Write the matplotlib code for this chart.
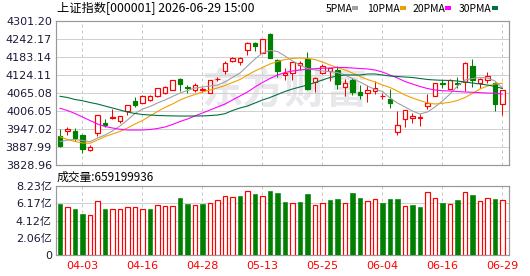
import matplotlib
matplotlib.use('Agg')
import matplotlib.pyplot as plt
import numpy as np

# ---------------- data ----------------
dates = ['03-31', '04-01', '04-02', '04-03', '04-07', '04-08', '04-09', '04-10', '04-13', '04-14',
         '04-15', '04-16', '04-17', '04-20', '04-21', '04-22', '04-23', '04-24', '04-27', '04-28',
         '04-29', '04-30', '05-06', '05-07', '05-08', '05-11', '05-12', '05-13', '05-14', '05-15',
         '05-18', '05-19', '05-20', '05-21', '05-22', '05-25', '05-26', '05-27', '05-28', '05-29',
         '06-01', '06-02', '06-03', '06-04', '06-05', '06-08', '06-09', '06-10', '06-11', '06-12',
         '06-15', '06-16', '06-17', '06-18', '06-22', '06-23', '06-24', '06-25', '06-26', '06-29']

opens = [3924.0, 3939.5, 3940.5, 3927.3, 3878.0, 3933.0, 3965.7, 3984.0, 3972.3, 4007.0,
         4039.9, 4031.3, 4042.0, 4054.3, 4065.0, 4075.9, 4112.0, 4083.8, 4074.9, 4076.0,
         4064.1, 4110.0, 4137.0, 4169.0, 4165.8, 4207.1, 4229.1, 4196.0, 4258.6, 4173.3,
         4124.1, 4129.7, 4155.9, 4176.6, 4101.2, 4129.7, 4138.2, 4140.5, 4084.0, 4107.7,
         4067.4, 4064.1, 4071.6, 4054.0, 4045.4, 3938.2, 3978.8, 3984.1, 3983.0, 4022.4,
         4055.2, 4097.0, 4077.2, 4097.5, 4101.2, 4153.6, 4096.9, 4107.7, 4096.9, 4028.0]
highs = [3946.0, 3952.6, 3951.3, 3930.0, 3895.0, 3993.0, 3979.8, 4011.6, 3990.0, 4026.0,
         4051.0, 4057.0, 4058.5, 4082.0, 4088.0, 4107.0, 4114.3, 4090.3, 4096.9, 4086.0,
         4108.0, 4117.0, 4169.0, 4182.5, 4183.0, 4232.4, 4232.4, 4243.5, 4262.8, 4176.0,
         4146.1, 4168.0, 4171.0, 4198.6, 4118.5, 4159.2, 4147.0, 4153.6, 4110.0, 4115.3,
         4091.3, 4091.3, 4104.4, 4064.0, 4077.2, 4006.0, 4010.0, 3998.5, 3995.0, 4061.8,
         4097.0, 4107.7, 4110.0, 4116.6, 4166.7, 4176.6, 4113.3, 4133.0, 4102.3, 4075.0]
lows = [3889.0, 3927.3, 3908.7, 3869.3, 3875.0, 3924.0, 3954.6, 3981.0, 3967.7, 3993.0,
        4020.0, 4031.0, 4038.0, 4053.0, 4061.8, 4075.0, 4072.6, 4064.1, 4069.4, 4069.4,
        4063.5, 4103.0, 4127.4, 4166.0, 4156.0, 4190.7, 4201.9, 4196.0, 4180.0, 4116.6,
        4107.7, 4107.7, 4140.5, 4076.0, 4069.4, 4127.4, 4105.4, 4078.2, 4055.2, 4058.5,
        4045.4, 4034.6, 4060.8, 4044.4, 4016.9, 3927.3, 3954.6, 3965.7, 3956.0, 4011.6,
        4055.0, 4080.5, 4077.0, 4080.5, 4072.6, 4085.8, 4080.5, 4096.9, 4007.0, 3993.0]
closes = [3891.0, 3946.0, 3918.5, 3880.4, 3889.0, 3992.0, 3961.2, 3986.0, 3988.7, 4024.7,
          4026.7, 4056.0, 4054.0, 4081.5, 4083.8, 4106.7, 4095.6, 4081.5, 4091.3, 4078.0,
          4107.7, 4111.5, 4163.5, 4181.0, 4180.0, 4229.1, 4218.2, 4242.2, 4180.9, 4138.2,
          4131.7, 4167.7, 4164.5, 4078.2, 4113.3, 4153.6, 4146.1, 4094.0, 4097.0, 4069.4,
          4058.5, 4074.9, 4082.5, 4056.0, 4031.3, 3959.2, 4009.3, 3990.6, 3985.0, 4031.3,
          4096.9, 4095.0, 4106.7, 4096.0, 4162.5, 4108.0, 4111.0, 4120.8, 4028.0, 4074.9]

# volume in 亿
volumes = [6.12, 5.73, 5.49, 4.93, 4.77, 6.40, 5.49, 5.45, 5.45, 5.69,
           5.69, 5.49, 5.49, 5.96, 5.84, 5.84, 6.80, 6.12, 5.96, 6.12,
           6.20, 6.56, 7.04, 6.92, 7.07, 7.63, 7.28, 7.04, 7.67, 7.40,
           6.32, 6.16, 6.32, 7.28, 5.96, 6.16, 6.56, 6.68, 6.16, 7.40,
           6.80, 6.40, 6.64, 6.20, 6.68, 6.68, 5.84, 5.96, 5.73, 7.48,
           6.76, 6.20, 6.08, 6.56, 7.48, 7.16, 6.44, 6.76, 6.68, 6.59199936]

ma5 = [3905.4, 3911.0, 3912.6, 3909.3, 3905.4, 3917.5, 3927.4, 3940.5, 3956.9, 3976.5,
       3997.9, 4012.6, 4020.8, 4032.3, 4042.1, 4053.6, 4065.1, 4073.3, 4081.5, 4084.8,
       4088.0, 4091.3, 4101.2, 4115.9, 4130.7, 4153.6, 4176.6, 4196.3, 4204.5, 4201.2,
       4186.4, 4170.0, 4156.9, 4145.4, 4140.5, 4137.2, 4134.9, 4132.3, 4124.1, 4112.6,
       4101.2, 4088.0, 4076.6, 4070.0, 4048.7, 4032.3, 4019.2, 4006.0, 3996.2, 4002.8,
       4019.2, 4038.9, 4061.8, 4088.0, 4107.7, 4112.6, 4115.9, 4114.3, 4104.4, 4081.5]
ma10 = [3921.8, 3912.6, 3906.1, 3901.1, 3900.2, 3911.0, 3922.5, 3930.6, 3938.8, 3950.3,
        3963.4, 3974.9, 3989.7, 4004.4, 4017.5, 4029.0, 4042.1, 4052.0, 4060.2, 4068.4,
        4074.9, 4081.5, 4089.7, 4099.5, 4109.4, 4124.1, 4137.2, 4148.7, 4160.2, 4168.4,
        4174.9, 4178.2, 4179.9, 4178.2, 4174.9, 4166.7, 4156.9, 4148.7, 4140.5, 4130.7,
        4119.2, 4109.4, 4101.2, 4091.3, 4083.1, 4071.6, 4058.5, 4048.7, 4040.5, 4032.3,
        4029.0, 4031.3, 4034.6, 4040.5, 4050.3, 4063.5, 4078.2, 4088.0, 4094.5, 4096.9]
ma20 = [4014.9, 4007.7, 3997.9, 3986.4, 3974.9, 3963.4, 3955.2, 3950.3, 3946.1, 3943.7,
        3943.7, 3943.7, 3945.4, 3948.7, 3953.6, 3961.8, 3971.6, 3979.8, 3989.7, 3999.5,
        4009.3, 4019.2, 4029.0, 4042.1, 4055.3, 4068.4, 4084.8, 4099.5, 4112.6, 4124.1,
        4132.3, 4137.2, 4140.5, 4142.8, 4144.8, 4146.1, 4147.1, 4148.7, 4148.7, 4147.1,
        4145.4, 4143.8, 4140.5, 4133.9, 4124.1, 4114.3, 4102.8, 4094.6, 4086.4, 4079.8,
        4074.9, 4072.6, 4071.6, 4070.0, 4068.4, 4067.4, 4066.1, 4065.1, 4064.1, 4061.8]
ma30 = [4054.3, 4050.3, 4043.8, 4039.8, 4033.9, 4029.0, 4022.4, 4015.9, 4009.3, 4002.7,
        3997.9, 3994.6, 3992.9, 3991.3, 3990.6, 3990.0, 3989.5, 3989.5, 3989.7, 3990.0,
        3991.0, 3992.9, 3997.2, 4007.7, 4015.9, 4022.4, 4032.2, 4042.1, 4050.3, 4060.2,
        4070.0, 4078.2, 4084.8, 4091.3, 4099.5, 4107.7, 4115.9, 4120.8, 4124.1, 4124.1,
        4124.1, 4127.4, 4127.4, 4124.1, 4120.8, 4119.2, 4117.5, 4115.9, 4112.6, 4109.4,
        4107.7, 4106.7, 4106.1, 4104.4, 4101.2, 4097.9, 4094.6, 4091.3, 4086.4, 4079.8]

price_ticks = [3828.96, 3887.99, 3947.02, 4006.05, 4065.08, 4124.11, 4183.14, 4242.17, 4301.20]
vol_ticks = [0, 2.0575, 4.115, 6.1725, 8.23]
vol_tick_labels = ['0', '2.06亿', '4.12亿', '6.17亿', '8.23亿']
tick_dates = ['04-03', '04-16', '04-28', '05-13', '05-25', '06-04', '06-16', '06-29']
title_text = '上证指数[000001] 2026-06-29 15:00'
volume_text = '成交量:659199936'
ma_names = ['5PMA', '10PMA', '20PMA', '30PMA']
ma_colors = ['#a0a0a0', '#f0a000', '#ff00ff', '#00703c']

# ---------------- figure ----------------
W, H = 530, 276
DPI = 100
fig = plt.figure(figsize=(W / DPI, H / DPI), dpi=DPI, facecolor='white')
PX = 72.0 / DPI  # one pixel in points

RED = '#ff0000'
GREEN = '#008000'
TICKC = '#1a1a3a'
CJK = ['Noto Sans CJK SC', 'DejaVu Sans']
NUMF = ['DejaVu Sans', 'Noto Sans CJK SC']


def fx(px):
    return px / W


def fy(py):
    return 1 - py / H


ax = fig.add_axes([fx(56), fy(165), fx(509) - fx(56), fy(21) - fy(165)])
axv = fig.add_axes([fx(56), fy(255), fx(509) - fx(56), fy(186) - fy(255)])

n = len(dates)
x = np.arange(n)
tick_idx = [dates.index(d) for d in tick_dates]
XL = (-0.53, 59.87)

for a in (ax, axv):
    a.set_xlim(*XL)
    a.set_xticks(tick_idx)
    a.grid(axis='x', color='#c8c8c8', linestyle=(0, (3, 3)), linewidth=1 * PX)
    a.grid(axis='y', color='#d0d0d0', linestyle='-', linewidth=1 * PX)
    a.set_axisbelow(True)
    for s in a.spines.values():
        s.set_color('#999999')
        s.set_linewidth(1.2 * PX)
    a.tick_params(length=0)

# watermark
ax.text(0.505, 0.52, '东方财富', transform=ax.transAxes, fontsize=30, color='#e8e8ec',
        family=CJK, fontweight='bold', ha='center', va='center', zorder=0.5, style='italic')

# ---------------- candles ----------------
opens_a = np.array(opens)
closes_a = np.array(closes)
up = closes_a >= opens_a
bw = 0.64
for i in range(n):
    col = RED if up[i] else GREEN
    ax.vlines(x[i], lows[i], highs[i], color=col, linewidth=1 * PX, zorder=3)
    lo = min(opens[i], closes[i])
    h = abs(closes[i] - opens[i])
    ax.bar(x[i], max(h, 0.3), bottom=lo, width=bw,
           facecolor='white' if up[i] else GREEN, edgecolor=col,
           linewidth=1.2 * PX, zorder=4)

for vals, c in zip([ma5, ma10, ma20, ma30], ma_colors):
    ax.plot(x, vals, color=c, linewidth=1.1 * PX, zorder=5)

ax.set_ylim(price_ticks[0], price_ticks[-1])
ax.set_yticks(price_ticks)
ax.set_yticklabels(['%.2f' % t for t in price_ticks], fontsize=8, color=TICKC, family=NUMF)
ax.tick_params(axis='y', pad=3)
ax.set_xticklabels([])

# ---------------- volume ----------------
vol_up = [closes[0] >= opens[0]] + [closes[i] >= closes[i - 1] for i in range(1, n)]
for i in range(n):
    if vol_up[i]:
        axv.bar(x[i], volumes[i], width=bw, facecolor='white', edgecolor=RED,
                linewidth=1.2 * PX, zorder=3)
    else:
        axv.bar(x[i], volumes[i], width=bw, facecolor=GREEN, edgecolor=GREEN,
                linewidth=0.6 * PX, zorder=3)
axv.set_ylim(vol_ticks[0], vol_ticks[-1])
axv.set_yticks(vol_ticks)
axv.set_yticklabels(vol_tick_labels, fontsize=8, color=TICKC, family=NUMF)
axv.tick_params(axis='y', pad=3)
axv.set_xticklabels(tick_dates, fontsize=8, color=RED, family=NUMF)
axv.tick_params(axis='x', pad=4)

# ---------------- texts ----------------
fig.text(fx(57), fy(9), title_text, fontsize=8.8, family=CJK, color='black',
         ha='left', va='center')
fig.text(fx(57), fy(177.5), volume_text, fontsize=8.5, family=CJK, color='black',
         ha='left', va='center')

leg_text_x = [326, 367, 413, 459]
leg_sw_x = [352, 400, 445, 492]
for name, c, tx, sx in zip(ma_names, ma_colors, leg_text_x, leg_sw_x):
    fig.text(fx(tx), fy(8.5), name, fontsize=7.5, family=CJK, color='black',
             ha='left', va='center')
    fig.patches.append(plt.Rectangle((fx(sx), fy(10)), fx(6), 3.5 / H,
                                     transform=fig.transFigure, facecolor=c,
                                     edgecolor='none'))

fig.savefig('out.png', dpi=DPI, facecolor='white')
